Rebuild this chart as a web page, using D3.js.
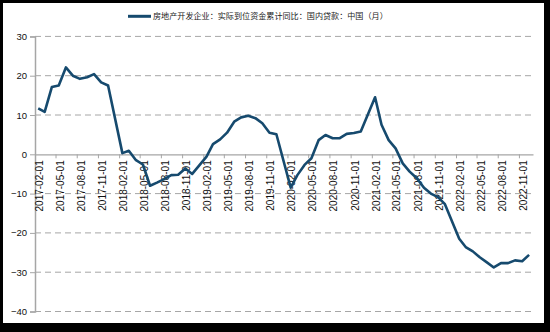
<!DOCTYPE html>
<html>
<head>
<meta charset="utf-8">
<script src="https://cdn.jsdelivr.net/npm/d3@7"></script>
<style>
  html, body { margin: 0; padding: 0; background: #000; }
  svg { display: block; }
  text { font-family: "Liberation Sans", Arial, sans-serif; }
  .legend text { font-family: "Noto Sans CJK SC", sans-serif; }
</style>
</head>
<body>
<svg id="chart" width="550" height="332"></svg>
<script>
// Monthly periods (January is merged into February in this series)
const months = [
  "2017-02","2017-03","2017-04","2017-05","2017-06","2017-07","2017-08","2017-09","2017-10","2017-11","2017-12",
  "2018-02","2018-03","2018-04","2018-05","2018-06","2018-07","2018-08","2018-09","2018-10","2018-11","2018-12",
  "2019-02","2019-03","2019-04","2019-05","2019-06","2019-07","2019-08","2019-09","2019-10","2019-11","2019-12",
  "2020-02","2020-03","2020-04","2020-05","2020-06","2020-07","2020-08","2020-09","2020-10","2020-11","2020-12",
  "2021-02","2021-03","2021-04","2021-05","2021-06","2021-07","2021-08","2021-09","2021-10","2021-11","2021-12",
  "2022-02","2022-03","2022-04","2022-05","2022-06","2022-07","2022-08","2022-09","2022-10","2022-11","2022-12"
];

// Cumulative YoY growth of domestic loans, %
const values = [
  11.7, 10.8, 17.1, 17.5, 22.1, 20.0, 19.2, 19.6, 20.4, 18.3, 17.5,
  0.3, 0.9, -1.5, -2.6, -8.0, -7.2, -6.3, -5.3, -5.2, -3.6, -5.0,
  -0.6, 2.6, 3.8, 5.5, 8.3, 9.4, 9.8, 9.2, 7.9, 5.5, 5.1,
  -8.5, -5.3, -2.7, -1.0, 3.6, 4.9, 4.1, 4.1, 5.2, 5.4, 5.8,
  14.5, 7.5, 3.6, 1.5, -2.3, -4.4, -6.1, -8.5, -10.0, -10.9, -12.7,
  -21.5, -23.6, -24.7, -26.2, -27.5, -28.8, -27.7, -27.7, -27.0, -27.2, -25.6
];

const xTickLabels = [
  "2017-02-01","2017-05-01","2017-08-01","2017-11-01",
  "2018-02-01","2018-05-01","2018-08-01","2018-11-01",
  "2019-02-01","2019-05-01","2019-08-01","2019-11-01",
  "2020-02-01","2020-05-01","2020-08-01","2020-11-01",
  "2021-02-01","2021-05-01","2021-08-01","2021-11-01",
  "2022-02-01","2022-05-01","2022-08-01","2022-11-01"
];

const yTicks = [-40, -30, -20, -10, 0, 10, 20, 30];

const seriesName = "房地产开发企业：实际到位资金累计同比：国内贷款：中国（月）";

const svg = d3.select("#chart");
const W = 550, H = 332;

// black frame with white panel
svg.append("rect").attr("width", W).attr("height", H).attr("fill", "#000");
svg.append("rect").attr("x", 3).attr("y", 3).attr("width", 541).attr("height", 320).attr("fill", "#fff");

const parseDay = d3.timeParse("%Y-%m-%d");
const parseMonth = d3.timeParse("%Y-%m");
const data = months.map((m, i) => {
  const d = parseMonth(m);
  return { date: new Date(d.getFullYear(), d.getMonth(), 15), value: values[i] };
});

const x = d3.scaleTime()
  .domain([new Date(2017, 1, 1), new Date(2023, 0, 1)])
  .range([35, 533]);

const y = d3.scaleLinear()
  .domain([-40, 30])
  .range([311.5, 36.4]);

// horizontal dashed gridlines
svg.append("g")
  .selectAll("line")
  .data(yTicks.filter(v => v !== 0))
  .join("line")
  .attr("x1", x.range()[0])
  .attr("x2", x.range()[1])
  .attr("y1", d => y(d))
  .attr("y2", d => y(d))
  .attr("stroke", "#a6a6a6")
  .attr("stroke-width", 1)
  .attr("stroke-dasharray", "6,4");

// y axis
const yAxis = svg.append("g")
  .attr("transform", `translate(${x.range()[0]},0)`)
  .call(d3.axisLeft(y).tickValues(yTicks).tickSize(5).tickPadding(3));
yAxis.select(".domain").attr("stroke", "#a6a6a6").attr("stroke-width", 1.5);
yAxis.selectAll(".tick line").attr("stroke", "#a6a6a6");
yAxis.selectAll(".tick text")
  .attr("font-size", 9.5)
  .attr("fill", "#111")
  .style("font-family", "'Liberation Sans', Arial, sans-serif");

// x axis along the zero line
const xTickDates = xTickLabels.map(parseDay);
const xAxis = svg.append("g")
  .attr("transform", `translate(0,${y(0)})`)
  .call(d3.axisBottom(x).tickValues(xTickDates).tickSize(4).tickSizeOuter(0)
    .tickFormat(d3.timeFormat("%Y-%m-%d")));
xAxis.select(".domain").attr("stroke", "#a6a6a6").attr("stroke-width", 1.2);
xAxis.selectAll(".tick line").attr("stroke", "#a6a6a6");
xAxis.selectAll(".tick text")
  .attr("font-size", 10)
  .attr("fill", "#111")
  .attr("text-anchor", "end")
  .attr("x", 0)
  .attr("y", 0)
  .attr("dy", "0.75em")
  .attr("transform", "translate(0,6) rotate(-90)")
  .style("font-family", "'Liberation Sans', Arial, sans-serif");

// series line
const line = d3.line()
  .x(d => x(d.date))
  .y(d => y(d.value));

svg.append("path")
  .datum(data)
  .attr("d", line)
  .attr("fill", "none")
  .attr("stroke", "#164a6e")
  .attr("stroke-width", 2.6)
  .attr("stroke-linejoin", "round");

// legend
const legend = svg.append("g").attr("class", "legend");
legend.append("line")
  .attr("x1", 128).attr("x2", 151)
  .attr("y1", 16.3).attr("y2", 16.3)
  .attr("stroke", "#164a6e")
  .attr("stroke-width", 3);
legend.append("text")
  .attr("x", 153)
  .attr("y", 16.3)
  .attr("dy", "0.36em")
  .attr("font-size", 8.1)
  .attr("fill", "#222")
  .text(seriesName);
</script>
</body>
</html>
